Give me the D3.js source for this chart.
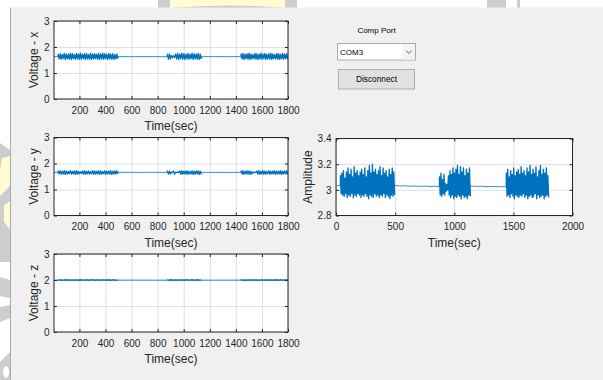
<!DOCTYPE html>
<html>
<head>
<meta charset="utf-8">
<script src="https://cdn.jsdelivr.net/npm/d3@7"></script>
<style>
body { margin: 0; background: #fff; }
svg { display: block; font-family: "Liberation Sans", Arial, sans-serif; }
</style>
</head>
<body>
<div class="canvas"></div>
<script>
// ---- data ----
// time (sec) where each burst of activity starts / stops, and the quiet stretches in between
const quietStart = [5, 495, 1135];
const quietEnd = [37, 875, 1440];
const burstStart = [37, 875, 1440];
const burstEnd = [495, 1135, 1798];

const voltXTicks = [200, 400, 600, 800, 1000, 1200, 1400, 1600, 1800];
const voltYTicks = [0, 1, 2, 3];
const ampXTicks = [0, 500, 1000, 1500, 2000];
const ampYTicks = [2.8, 3, 3.2, 3.4];
const ampYLabels = ['2.8', '3', '3.2', '3.4'];

// Voltage - x
const xQuiet0 = [1.63, 1.63];
const xQuiet1 = [1.63, 1.628, 1.63, 1.627];
const xQuiet2 = [1.628, 1.63, 1.627, 1.63];
const xHi1 = [1.72,1.74,1.71,1.75,1.73,1.72,1.76,1.74,1.71,1.75,1.73,1.76,1.72,1.74,1.75,1.71,1.76,1.73,1.74,1.72,1.75,1.73,1.76,1.74,1.72,1.75,1.73,1.74,1.71,1.73];
const xLo1 = [1.54,1.53,1.55,1.52,1.54,1.53,1.52,1.55,1.53,1.54,1.52,1.53,1.55,1.52,1.54,1.53,1.52,1.54,1.55,1.53,1.52,1.54,1.53,1.55,1.52,1.54,1.53,1.52,1.54,1.55];
const xHi2 = [1.72,1.73,1.67,1.66,1.73,1.75,1.72,1.76,1.74,1.73,1.75,1.72,1.76,1.74,1.73,1.75,1.72];
const xLo2 = [1.53,1.54,1.59,1.6,1.54,1.52,1.55,1.53,1.52,1.54,1.53,1.55,1.52,1.54,1.53,1.52,1.54];
const xHi3 = [1.73,1.75,1.72,1.74,1.76,1.73,1.71,1.75,1.74,1.72,1.76,1.73,1.75,1.72,1.74,1.76,1.73,1.71,1.75,1.74,1.72,1.76,1.73,1.74];
const xLo3 = [1.54,1.52,1.55,1.53,1.52,1.54,1.55,1.53,1.52,1.54,1.53,1.55,1.52,1.54,1.53,1.52,1.55,1.54,1.53,1.52,1.54,1.53,1.55,1.53];

// Voltage - y
const yQuiet0 = [1.66, 1.66];
const yQuiet1 = [1.66, 1.662, 1.658, 1.661, 1.659, 1.66];
const yQuiet2 = [1.66, 1.659, 1.661, 1.658, 1.66];
const yHi1 = [1.71,1.72,1.7,1.72,1.71,1.69,1.72,1.7,1.71,1.72,1.7,1.68,1.71,1.72,1.7,1.71,1.69,1.72,1.71,1.7,1.72,1.71,1.69,1.72,1.7,1.71,1.72,1.7,1.71,1.72];
const yLo1 = [1.6,1.59,1.6,1.58,1.59,1.61,1.59,1.6,1.58,1.59,1.6,1.62,1.59,1.58,1.6,1.59,1.61,1.58,1.59,1.6,1.58,1.59,1.61,1.58,1.6,1.59,1.58,1.6,1.59,1.6];
const yHi2 = [1.71,1.7,1.665,1.7,1.665,1.665,1.71,1.72,1.7,1.72,1.71,1.69,1.72,1.7,1.71,1.72,1.7];
const yLo2 = [1.59,1.6,1.655,1.59,1.655,1.655,1.58,1.59,1.6,1.58,1.59,1.6,1.58,1.59,1.6,1.58,1.59];
const yHi3 = [1.71,1.72,1.7,1.72,1.71,1.7,1.67,1.67,1.71,1.72,1.7,1.72,1.71,1.69,1.72,1.7,1.71,1.72,1.7,1.71,1.72,1.7,1.71,1.72];
const yLo3 = [1.59,1.58,1.6,1.59,1.58,1.6,1.65,1.65,1.59,1.58,1.6,1.58,1.59,1.61,1.58,1.6,1.59,1.58,1.6,1.59,1.58,1.6,1.59,1.58];

// Voltage - z
const zQuiet0 = [1.995, 1.995];
const zQuiet1 = [1.995, 1.996, 1.994, 1.995];
const zQuiet2 = [1.995, 1.994, 1.996, 1.995];
const zHi1 = [2.005,2.012,2.006,2.01,2.013,2.005,2.011,2.008,2.004,2.012,2.006,2.013,2.009,2.005,2.012,2.006,2.01,2.013,2.005,2.011,2.008,2.004,2.012,2.006,2.01,2.013,2.005,2.012,2.009,2.006];
const zLo1 = [1.99,1.985,1.99,1.984,1.988,1.99,1.985,1.989,1.986,1.99,1.984,1.988,1.99,1.985,1.989,1.986,1.99,1.984,1.988,1.99,1.985,1.989,1.986,1.99,1.984,1.988,1.99,1.985,1.989,1.986];
const zHi2 = [2.006,2.01,2.013,2.005,2.009,2.012,2.006,2.011,2.005,2.013,2.008,2.006,2.012,2.005,2.01,2.013,2.006];
const zLo2 = [1.989,1.985,1.99,1.986,1.984,1.989,1.99,1.985,1.988,1.99,1.984,1.989,1.986,1.99,1.985,1.988,1.99];
const zHi3 = [2.008,2.005,2.012,2.006,2.01,2.013,2.005,2.012,2.009,2.006,2.013,2.005,2.01,2.012,2.006,2.009,2.005,2.013,2.008,2.006,2.012,2.005,2.01,2.013];
const zLo3 = [1.99,1.986,1.984,1.99,1.988,1.985,1.99,1.986,1.989,1.984,1.99,1.987,1.985,1.99,1.986,1.989,1.984,1.99,1.987,1.985,1.99,1.986,1.988,1.99];

// Amplitude
const ampQuiet0 = [3.03, 3.035, 3.03];
const ampQuiet1 = [3.035, 3.03, 3.032, 3.028, 3.03, 3.027, 3.029, 3.026, 3.028, 3.025];
const ampQuiet2 = [3.03, 3.027, 3.028, 3.025, 3.026, 3.024, 3.025];
const ampHi1 = [3.11,3.13,3.15,3.09,3.14,3.17,3.12,3.16,3.1,3.18,3.13,3.15,3.11,3.14,3.16,3.12,3.17,3.1,3.15,3.19,3.13,3.2,3.14,3.16,3.12,3.15,3.18,3.11,3.17,3.13,3.15,3.1,3.16,3.12,3.17,3.14];
const ampLo1 = [2.97,2.96,2.95,2.97,2.94,2.96,2.95,2.97,2.94,2.96,2.95,2.97,2.96,2.94,2.96,2.95,2.97,2.95,2.93,2.96,2.95,2.94,2.97,2.95,2.96,2.94,2.96,2.95,2.97,2.94,2.96,2.95,2.93,2.96,2.95,2.96];
const ampHi2 = [3.1,3.13,3.08,3.12,3.05,3.04,3.11,3.15,3.12,3.17,3.13,3.16,3.19,3.12,3.18,3.14,3.17,3.11,3.16,3.13,3.17];
const ampLo2 = [2.96,2.95,2.97,2.96,2.99,3.0,2.96,2.94,2.96,2.93,2.95,2.94,2.96,2.95,2.93,2.96,2.94,2.95,2.93,2.96,2.95];
const ampHi3 = [3.13,3.16,3.1,3.15,3.12,3.17,3.11,3.14,3.16,3.12,3.18,3.13,3.15,3.11,3.17,3.14,3.19,3.12,3.16,3.13,3.18,3.1,3.15,3.19,3.12,3.16,3.13,3.17,3.11];
const ampLo3 = [2.95,2.96,2.94,2.97,2.95,2.93,2.96,2.95,2.94,2.96,2.95,2.97,2.94,2.96,2.93,2.95,2.96,2.94,2.95,2.97,2.93,2.96,2.94,2.95,2.96,2.93,2.95,2.96,2.94];

// ---- svg ----
const svg = d3.select('.canvas')
  .append('svg')
  .attr('width', 603)
  .attr('height', 380);

// watermark bits outside the window
const grey = '#cdcdcd', yellow = '#fffbd2';
svg.append('rect').attr('x', 158).attr('y', 0).attr('width', 139).attr('height', 8).attr('fill', grey);
svg.append('path').attr('d', 'M170,0 L285,0 L285,8 Q227,3 170,8 Z').attr('fill', yellow);
svg.append('rect').attr('x', 487).attr('y', 0).attr('width', 19).attr('height', 8).attr('fill', grey);
svg.append('rect').attr('x', 517).attr('y', 0).attr('width', 3).attr('height', 8).attr('fill', grey);
const leftBits = [
  {pts: '0,143 10,150 10,262 0,262', c: grey},
  {pts: '2,158 10,156 10,186 0,196 0,170', c: yellow},
  {pts: '4,205 10,201 10,230 4,222', c: yellow},
  {pts: '0,277 10,280 10,298 0,296', c: grey},
  {pts: '0,307 10,305 10,318 0,322', c: grey},
  {pts: '0,362 10,352 10,380 0,380', c: grey}
];
svg.selectAll('polygon.wm').data(leftBits).enter().append('polygon')
  .attr('points', d => d.pts).attr('fill', d => d.c);
svg.append('ellipse').attr('cx', 6).attr('cy', 372).attr('rx', 3).attr('ry', 6).attr('fill', '#fff');

// figure window
svg.append('rect').attr('x', 10.5).attr('y', 7.5).attr('width', 593).attr('height', 373)
  .attr('fill', '#f0f0f0');
svg.append('line').attr('x1', 10.5).attr('x2', 10.5).attr('y1', 7.5).attr('y2', 380)
  .attr('stroke', '#a9a9a9');

// build the signal pieces: quiet stretch, burst, quiet, burst ...
// each piece starts at the last point of the one before so the trace stays joined
const buildPieces = (quiets, his, los) => {
  const pieces = [];
  let last = null;
  for (let k = 0; k < 3; k++) {
    const q = quiets[k];
    const qp = last ? [last] : [];
    q.forEach((v, i) => qp.push([quietStart[k] + i * (quietEnd[k] - quietStart[k]) / (q.length - 1), v]));
    pieces.push({burst: false, pts: qp});
    last = qp[qp.length - 1];
    const n = his[k].length * 2;
    const bp = [last];
    his[k].forEach((v, i) => {
      bp.push([burstStart[k] + (2 * i) * (burstEnd[k] - burstStart[k]) / (n - 1), v]);
      bp.push([burstStart[k] + (2 * i + 1) * (burstEnd[k] - burstStart[k]) / (n - 1), los[k][i]]);
    });
    pieces.push({burst: true, pts: bp});
    last = bp[bp.length - 1];
  }
  return pieces;
};

const plots = [
  {id: 'vx', left: 54, right: 288, top: 21, bottom: 99, xDomain: [5, 1800], yDomain: [0, 3],
   xTicks: voltXTicks, yTicks: voltYTicks, yFmt: d => d, ylabel: 'Voltage - x', yLabelOff: 16,
   data: buildPieces([xQuiet0, xQuiet1, xQuiet2], [xHi1, xHi2, xHi3], [xLo1, xLo2, xLo3])},
  {id: 'vy', left: 54, right: 288, top: 137.5, bottom: 215.5, xDomain: [5, 1800], yDomain: [0, 3],
   xTicks: voltXTicks, yTicks: voltYTicks, yFmt: d => d, ylabel: 'Voltage - y', yLabelOff: 16,
   data: buildPieces([yQuiet0, yQuiet1, yQuiet2], [yHi1, yHi2, yHi3], [yLo1, yLo2, yLo3])},
  {id: 'vz', left: 54, right: 288, top: 254, bottom: 332, xDomain: [5, 1800], yDomain: [0, 3],
   xTicks: voltXTicks, yTicks: voltYTicks, yFmt: d => d, ylabel: 'Voltage - z', yLabelOff: 16,
   data: buildPieces([zQuiet0, zQuiet1, zQuiet2], [zHi1, zHi2, zHi3], [zLo1, zLo2, zLo3])},
  {id: 'amp', left: 336, right: 572.5, top: 138.5, bottom: 215.5, xDomain: [0, 2000], yDomain: [2.8, 3.4],
   xTicks: ampXTicks, yTicks: ampYTicks, yFmt: (d, i) => ampYLabels[i], ylabel: 'Amplitude', yLabelOff: 24,
   data: buildPieces([ampQuiet0, ampQuiet1, ampQuiet2], [ampHi1, ampHi2, ampHi3], [ampLo1, ampLo2, ampLo3])}
];

const inkColor = '#262626';
const xFmt = d3.format('d');

plots.forEach(p => {
  const w = p.right - p.left, h = p.bottom - p.top;
  const g = svg.append('g').attr('transform', `translate(${p.left}, ${p.top})`);
  const x = d3.scaleLinear().domain(p.xDomain).range([0, w]);
  const y = d3.scaleLinear().domain(p.yDomain).range([h, 0]);

  g.append('rect').attr('width', w).attr('height', h).attr('fill', '#fff');

  // grid
  const gx = g.append('g').attr('transform', `translate(0, ${h})`)
    .call(d3.axisBottom(x).tickValues(p.xTicks).tickSize(-h).tickFormat(''));
  const gy = g.append('g')
    .call(d3.axisLeft(y).tickValues(p.yTicks).tickSize(-w).tickFormat(''));
  [gx, gy].forEach(a => {
    a.select('.domain').remove();
    a.selectAll('line').attr('stroke', '#dfdfdf').attr('stroke-width', 1);
  });

  // signal
  g.append('clipPath').attr('id', 'clip-' + p.id)
    .append('rect').attr('width', w).attr('height', h);
  const line = d3.line().x(d => x(d[0])).y(d => y(d[1]));
  g.append('g').attr('clip-path', `url(#clip-${p.id})`)
    .selectAll('path')
    .data(p.data)
    .enter()
    .append('path')
    .attr('d', d => line(d.pts))
    .attr('fill', 'none')
    .attr('stroke', '#0072BD')
    .attr('stroke-width', d => d.burst ? 1.35 : 0.8)
    .attr('stroke-linejoin', 'round');

  // axes with inward ticks, box on
  const styleAxis = a => {
    a.select('.domain').remove();
    a.selectAll('line').attr('stroke', inkColor);
    a.selectAll('text').attr('fill', inkColor).style('font-size', '10px')
      .style('font-family', '"Liberation Sans", Arial, sans-serif');
  };
  g.append('g').attr('transform', `translate(0, ${h})`)
    .call(d3.axisBottom(x).tickValues(p.xTicks).tickSizeInner(-3).tickSizeOuter(0).tickPadding(7.5).tickFormat(xFmt))
    .call(styleAxis);
  g.append('g')
    .call(d3.axisTop(x).tickValues(p.xTicks).tickSizeInner(-3).tickSizeOuter(0).tickFormat(''))
    .call(styleAxis);
  g.append('g')
    .call(d3.axisLeft(y).tickValues(p.yTicks).tickSizeInner(-3).tickSizeOuter(0).tickPadding(4.5).tickFormat(p.yFmt))
    .call(styleAxis);
  g.append('g').attr('transform', `translate(${w}, 0)`)
    .call(d3.axisRight(y).tickValues(p.yTicks).tickSizeInner(-3).tickSizeOuter(0).tickFormat(''))
    .call(styleAxis);

  g.append('rect').attr('width', w).attr('height', h)
    .attr('fill', 'none').attr('stroke', inkColor).attr('stroke-width', 1);

  // labels
  g.append('text')
    .attr('x', w / 2).attr('y', h + 31)
    .attr('text-anchor', 'middle')
    .attr('fill', inkColor)
    .style('font-size', '12px')
    .text('Time(sec)');
  g.append('text')
    .attr('transform', `translate(${-p.yLabelOff}, ${h / 2}) rotate(-90)`)
    .attr('text-anchor', 'middle')
    .attr('fill', inkColor)
    .style('font-size', '12px')
    .text(p.ylabel);
});

// ui controls
svg.append('text').attr('x', 376.5).attr('y', 33).attr('text-anchor', 'middle')
  .attr('fill', '#000').style('font-size', '8px').text('Comp Port');

svg.append('rect').attr('x', 337.5).attr('y', 43.5).attr('width', 78).attr('height', 16.5)
  .attr('fill', '#fff').attr('stroke', '#acacac');
svg.append('rect').attr('x', 402.5).attr('y', 44).attr('width', 12.5).attr('height', 15.5)
  .attr('fill', '#f4f4f4');
svg.append('polyline').attr('points', '406,50.5 408.75,53.5 411.5,50.5')
  .attr('fill', 'none').attr('stroke', '#606060').attr('stroke-width', 0.9);
svg.append('text').attr('x', 340).attr('y', 55).attr('fill', '#000')
  .style('font-size', '8px').text('COM3');

svg.append('rect').attr('x', 338.5).attr('y', 69.5).attr('width', 76).attr('height', 19.5)
  .attr('fill', '#e1e1e1').attr('stroke', '#adadad');
svg.append('text').attr('x', 376.5).attr('y', 82.3).attr('text-anchor', 'middle')
  .attr('fill', '#000').style('font-size', '8.3px').text('Disconnect');
</script>
</body>
</html>
